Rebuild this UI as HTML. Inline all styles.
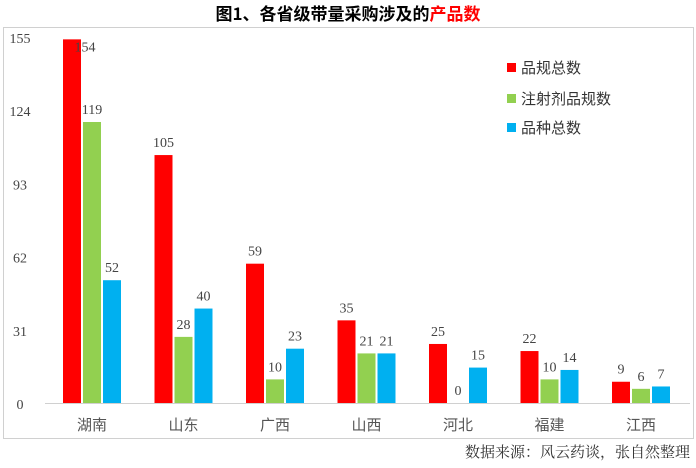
<!DOCTYPE html>
<html><head><meta charset="utf-8"><style>
body{margin:0;width:696px;height:468px;background:#fff;overflow:hidden;font-family:"Liberation Sans","Noto Sans CJK SC",sans-serif}
svg{display:block}
</style></head><body>
<svg width="696" height="468">
<text x="348" y="20" text-anchor="middle" font-size="17" font-weight="bold" font-family="'Noto Sans CJK SC',sans-serif">图1、各省级带量采购涉及的<tspan fill="#ff0000">产品数</tspan></text>
<rect x="3.5" y="27.5" width="690" height="411" fill="none" stroke="#d0d0d0"/>
<line x1="45" y1="403.5" x2="690" y2="403.5" stroke="#d0d0d0"/>
<g id="ticks"></g><g id="bars"></g><g id="cats"></g>
<g>
<rect x="507" y="63" width="9" height="9" fill="#ff0000"/>
<text x="521" y="73" font-size="15" font-family="'Noto Sans CJK SC',sans-serif" fill="#333">品规总数</text>
<rect x="507" y="94" width="9" height="9" fill="#92d050"/>
<text x="521" y="104" font-size="15" font-family="'Noto Sans CJK SC',sans-serif" fill="#333">注射剂品规数</text>
<rect x="507" y="123" width="9" height="9" fill="#00b0f0"/>
<text x="521" y="133" font-size="15" font-family="'Noto Sans CJK SC',sans-serif" fill="#333">品种总数</text>
</g>
<text x="690" y="457" text-anchor="end" font-size="15" font-family="'Noto Serif CJK SC',serif" fill="#333">数据来源：风云药谈，张自然整理</text>
</svg>
<script>
const categories=["湖南","山东","广西","山西","河北","福建","江西"];
const totalSpecs=[154,105,59,35,25,22,9];
const injectionSpecs=[119,28,10,21,0,10,6];
const varietyTotals=[52,40,23,21,15,14,7];
const tickValues=[0,31,62,93,124,155];
const NS="http://www.w3.org/2000/svg";
const y0=403,yTop=37,vMax=155;
const y=v=>y0-v*(y0-yTop)/vMax;
const cx=i=>92+91.5*i;
const bw=18,gap=2;
function mk(t,a,p){const e=document.createElementNS(NS,t);for(const k in a)e.setAttribute(k,a[k]);p.appendChild(e);return e;}
const tg=document.getElementById('ticks'),bg=document.getElementById('bars'),cg=document.getElementById('cats');
tickValues.forEach(v=>{const t=mk('text',{x:20,y:y(v)+6,'text-anchor':'middle','font-size':14,fill:'#444','font-family':"'Liberation Serif',serif"},tg);


t.textContent=v;});
const series=[[totalSpecs,'#ff0000','total'],[injectionSpecs,'#92d050','injection'],[varietyTotals,'#00b0f0','variety']];
categories.forEach((c,i)=>{
 series.forEach(([arr,col,nm],s)=>{
  const x=cx(i)+(s-1)*(bw+gap)-bw/2,v=arr[i];
  const r=mk('rect',{x:x,y:y(v),width:bw,height:y0-y(v),fill:col},bg);
  
  
  const t=mk('text',{x:x+bw/2+(s==0&&i==0?13:0),y:y(v)-(s==0&&i==0?-12:8),'text-anchor':'middle','font-size':14,fill:'#444','font-family':"'Liberation Serif',serif"},bg);
  
  
  t.textContent=v;
 });
 const t=mk('text',{x:cx(i),y:430,'text-anchor':'middle','font-size':15,fill:'#555','font-family':"'Noto Sans CJK SC',sans-serif"},cg);
 
 
 t.textContent=c;
});
</script>
</body></html>
